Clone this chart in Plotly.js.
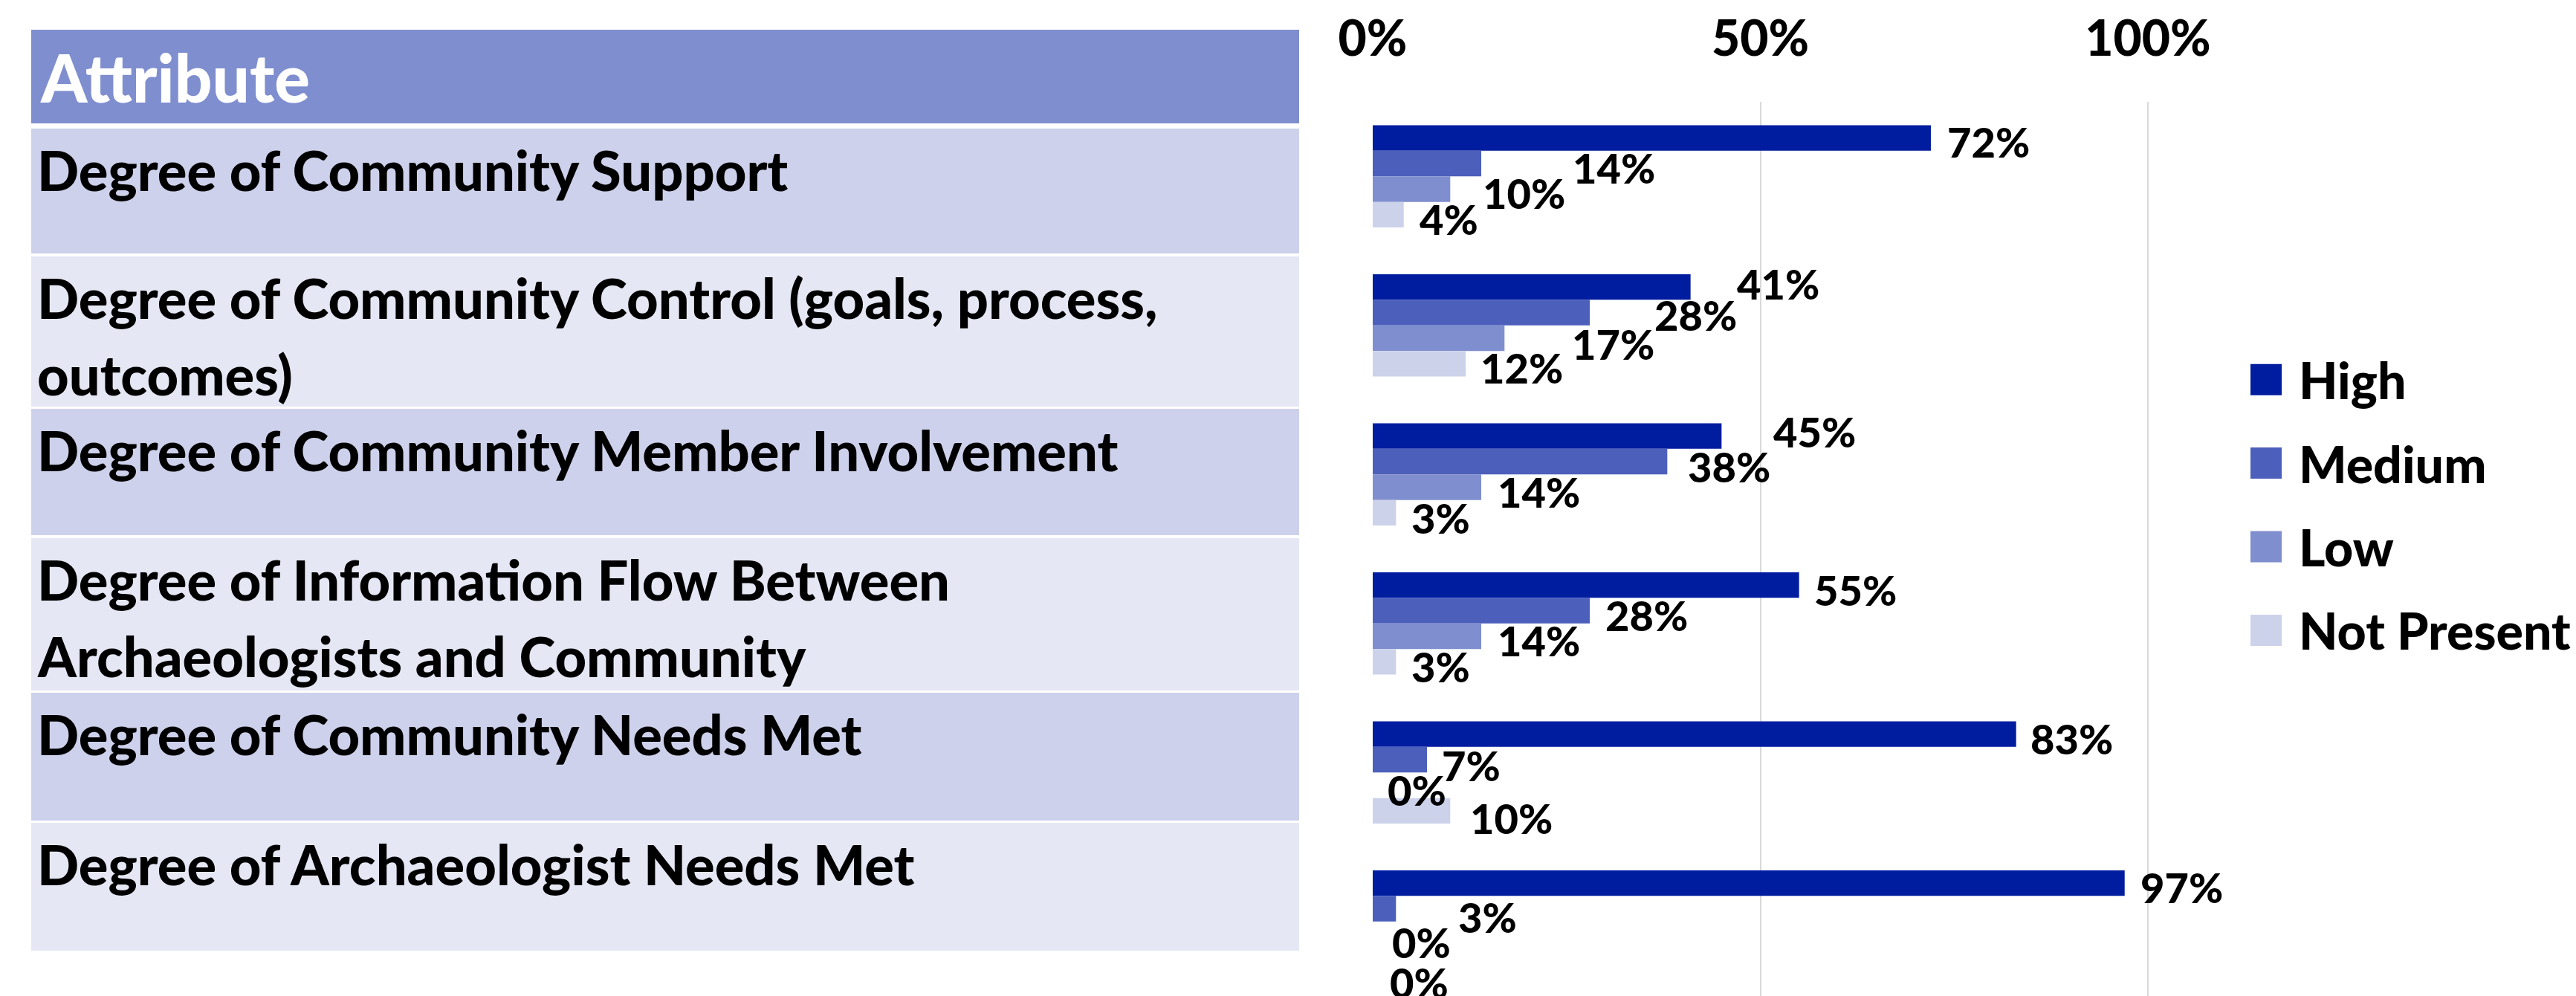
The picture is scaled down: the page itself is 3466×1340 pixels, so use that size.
<!DOCTYPE html>
<html>
<head>
<meta charset="utf-8">
<script src="https://cdn.plot.ly/plotly-3.0.1.min.js"></script>
<style>html,body{margin:0;padding:0;background:#fff;}#chart{width:3466px;height:1340px;}</style>
</head>
<body>
<div id="chart"></div>
<script>
// ---- data ----
const headerLabel = 'Attribute';
const categories = [
  'Degree of Community Support',
  'Degree of Community Control (goals, process,<br>outcomes)',
  'Degree of Community Member Involvement',
  'Degree of Information Flow Between<br>Archaeologists and Community',
  'Degree of Community Needs Met',
  'Degree of Archaeologist Needs Met'
];
const seriesNames = ['High', 'Medium', 'Low', 'Not Present'];
const high       = [72, 41, 45, 55, 83, 97];
const medium     = [14, 28, 38, 28, 7, 3];
const low        = [10, 17, 14, 14, 0, 0];
const notPresent = [4, 12, 3, 3, 10, 0];
const tickValues = [0, 50, 100];
const tickLabels = ['0%', '50%', '100%'];

// ---- styling ----
const W = 3466, H = 1340, TOP = 137;
const seriesColors = ['#001C9F', '#4C5FBB', '#7F8ECE', '#CDD2EB'];
const FONT = 'Lato, "Open Sans", sans-serif';
const WEIGHT = 900;
const px2x = p => p / W;
const py2y = p => (H - p) / (H - TOP);
const BARGAP = 0.313;

// data-label nudges (pixels) copying the label placement of the original slide
const labelNudgeX = [
  [22, 62, 70, 20, 19, 21],
  [123, 87, 28, 21, 20, 84],
  [44, 91, 22, 22, 20, 26],
  [21, 20, 21, 21, 27, 23]
];
const labelNudgeY = [
  [5, -5, -6, 6, 6, 5],
  [5, 3, 6, 6, 7, 11],
  [5, 8, 6, 6, 6, 11],
  [6, 5, 7, 6, 10, 30]
];

const seriesValues = [high, medium, low, notPresent];
const traces = seriesNames.map((name, i) => ({
  type: 'bar',
  orientation: 'h',
  name: name,
  legendgroup: name,
  x: seriesValues[i],
  y: categories,
  marker: {color: seriesColors[i], line: {width: 0}},
  hoverinfo: 'skip'
}));

const shapes = [];
const annotations = [];

// data labels, anchored to each bar's end through the axes
const barW = (1 - BARGAP) / seriesNames.length;
seriesValues.forEach((vals, k) => {
  vals.forEach((v, i) => {
    annotations.push({
      xref: 'x', yref: 'y', x: v, y: i + (k - (seriesNames.length - 1) / 2) * barW,
      xanchor: 'left', yanchor: 'middle', xshift: labelNudgeX[k][i] - 2, yshift: -labelNudgeY[k][i],
      text: v + '%', showarrow: false,
      font: {family: FONT, size: 56, color: '#000', weight: WEIGHT}
    });
  });
});

// table (left side) built from categories
const rowBands = [[173, 341], [345, 547], [550, 720], [724, 929], [932, 1104], [1107, 1279]];
const rowFills = ['#CDD1EB', '#E5E7F4'];
shapes.push({type: 'rect', xref: 'paper', yref: 'paper', x0: px2x(42), x1: px2x(1748),
  y0: py2y(166), y1: py2y(40), fillcolor: '#7F8ECE', line: {width: 0}, layer: 'below'});
annotations.push({xref: 'paper', yref: 'paper', x: px2x(52), y: py2y(48), xanchor: 'left', yanchor: 'top',
  text: headerLabel, showarrow: false, font: {family: FONT, size: 89, color: '#fff', weight: WEIGHT}});
categories.forEach((c, i) => {
  const [t, b] = rowBands[i];
  shapes.push({type: 'rect', xref: 'paper', yref: 'paper', x0: px2x(42), x1: px2x(1748),
    y0: py2y(b), y1: py2y(t), fillcolor: rowFills[i % 2], line: {width: 0}, layer: 'below'});
  c.split('<br>').forEach((line, k) => {
    annotations.push({xref: 'paper', yref: 'paper', x: px2x(48), y: py2y(t + 9 + 103 * k),
      xanchor: 'left', yanchor: 'top', text: line, showarrow: false,
      font: {family: FONT, size: 74, color: '#000', weight: WEIGHT}});
  });
});

const layout = {
  width: W, height: H,
  margin: {l: 0, r: 0, t: TOP, b: 0, pad: 0, autoexpand: false},
  paper_bgcolor: '#fff', plot_bgcolor: 'rgba(0,0,0,0)',
  barmode: 'group', bargap: BARGAP, bargroupgap: 0,
  showlegend: true,
  legend: {x: px2x(3005), y: py2y(460), xanchor: 'left', yanchor: 'top',
    font: {family: FONT, size: 68, color: '#000', weight: WEIGHT},
    itemwidth: 78, tracegroupgap: 21, bgcolor: 'rgba(0,0,0,0)', traceorder: 'grouped'},
  xaxis: {domain: [px2x(1847), 1], range: [0, 1619 / 10.43], side: 'top', automargin: false,
    tickvals: tickValues, ticktext: tickLabels, ticks: '', ticklabelstandoff: 48,
    showgrid: true, gridcolor: '#D9D9D9', gridwidth: 2, zeroline: false, showline: false,
    tickfont: {family: FONT, size: 66, color: '#000', weight: WEIGHT}, fixedrange: true},
  yaxis: {type: 'category', categoryorder: 'array', categoryarray: categories, automargin: false,
    autorange: 'reversed', showticklabels: false, showgrid: false, zeroline: false, showline: false, ticks: ''},
  shapes: shapes,
  annotations: annotations,
  font: {family: FONT}
};

Plotly.newPlot('chart', traces, layout, {displayModeBar: false, staticPlot: true}).then(gd => {
  gd.querySelectorAll('.legend .legendpoints path').forEach(p => p.setAttribute('d', 'M21,21H-21V-21H21Z'));
});
</script>
</body>
</html>
